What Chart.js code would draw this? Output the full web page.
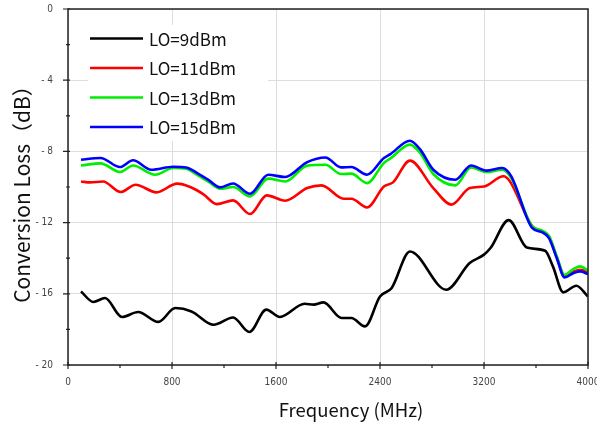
<!DOCTYPE html>
<html>
<head>
<meta charset="utf-8">
<script src="https://cdn.jsdelivr.net/npm/chart.js@4.4.1/dist/chart.umd.min.js"></script>
<style>
  html, body { margin: 0; padding: 0; background: #fff; }
  canvas { display: block; }
</style>
</head>
<body>
<canvas id="c" width="597" height="427"></canvas>
<script>
// Conversion loss vs. frequency for four LO drive levels
const seriesLabels = ['LO=9dBm', 'LO=11dBm', 'LO=13dBm', 'LO=15dBm'];
const seriesColors = ['#000000', '#ff0000', '#00ee00', '#0000ff'];

const freq9 = [100, 195, 285, 415, 540, 695, 825, 950, 1120, 1270, 1395, 1525, 1630, 1820, 1890, 1965, 2105, 2180, 2285, 2400, 2490, 2630, 2910, 3090, 3200, 3250, 3390, 3530, 3670, 3730, 3810, 3910, 4000];
const loss9 = [-15.87, -16.46, -16.24, -17.3, -17.02, -17.58, -16.8, -16.99, -17.74, -17.33, -18.15, -16.89, -17.3, -16.56, -16.61, -16.48, -17.36, -17.36, -17.83, -16.15, -15.67, -13.62, -15.77, -14.27, -13.8, -13.43, -11.86, -13.4, -13.58, -14.46, -15.92, -15.55, -16.15];

const freq11 = [100, 170, 270, 405, 520, 680, 840, 940, 1040, 1145, 1270, 1400, 1530, 1670, 1840, 1950, 2120, 2180, 2300, 2430, 2500, 2630, 2810, 2950, 3090, 3200, 3350, 3400, 3570, 3650, 3700, 3760, 3820, 3890, 3940, 4000];
const loss11 = [-9.69, -9.74, -9.69, -10.28, -9.87, -10.3, -9.81, -10.0, -10.4, -10.96, -10.75, -11.52, -10.47, -10.77, -10.06, -9.91, -10.66, -10.66, -11.15, -9.97, -9.74, -8.52, -10.06, -10.99, -10.06, -9.97, -9.4, -9.69, -12.2, -12.49, -12.8, -13.95, -15.02, -14.75, -14.65, -14.77];

const freq13 = [100, 250, 400, 500, 670, 810, 910, 1000, 1080, 1170, 1270, 1400, 1540, 1670, 1840, 1980, 2100, 2180, 2300, 2430, 2480, 2630, 2710, 2810, 2980, 3100, 3220, 3340, 3410, 3570, 3650, 3700, 3760, 3820, 3890, 3940, 4000];
const loss13 = [-8.79, -8.67, -9.16, -8.79, -9.31, -8.93, -8.97, -9.35, -9.7, -10.1, -10.0, -10.53, -9.53, -9.69, -8.8, -8.75, -9.27, -9.25, -9.78, -8.65, -8.4, -7.62, -8.1, -9.27, -9.91, -8.9, -9.16, -9.03, -9.5, -12.2, -12.46, -12.75, -13.9, -14.93, -14.6, -14.46, -14.69];

const freq15 = [100, 250, 400, 500, 640, 810, 910, 1000, 1080, 1170, 1270, 1400, 1540, 1670, 1840, 1980, 2100, 2180, 2300, 2430, 2480, 2630, 2710, 2810, 2980, 3100, 3220, 3340, 3410, 3570, 3650, 3700, 3760, 3820, 3890, 3940, 4000];
const loss15 = [-8.47, -8.37, -8.88, -8.5, -9.03, -8.86, -8.9, -9.25, -9.6, -10.02, -9.8, -10.38, -9.31, -9.44, -8.6, -8.34, -8.9, -8.88, -9.31, -8.37, -8.15, -7.4, -7.9, -9.03, -9.59, -8.79, -9.08, -8.93, -9.4, -12.3, -12.55, -12.87, -14.0, -15.08, -14.83, -14.74, -14.89];

const xTicks = [0, 800, 1600, 2400, 3200, 4000];
const yTickLabels = { '0': '0', '-4': '- 4', '-8': '- 8', '-12': '- 12', '-16': '- 16', '-20': '- 20' };

const FONT = '"Noto Sans CJK SC", "Noto Sans", sans-serif';
const TICK_FONT = '"Liberation Sans Narrow", "DejaVu Sans Condensed", sans-serif';

function toPoints(xs, ys) { return xs.map((x, i) => ({ x: x, y: ys[i] })); }

const allSeries = [[freq9, loss9], [freq11, loss11], [freq13, loss13], [freq15, loss15]];
const datasets = allSeries.map((s, i) => ({
  label: seriesLabels[i],
  data: toPoints(s[0], s[1]),
  borderColor: seriesColors[i],
  backgroundColor: seriesColors[i],
  borderWidth: 2.6,
  pointRadius: 0,
  cubicInterpolationMode: 'monotone',
  fill: false,
  order: 3 - i
}));

// white legend box with line swatches, inside the top-left of the plot
const legendBox = {
  id: 'legendBox',
  beforeDatasetsDraw(chart) {
    const ctx = chart.ctx;
    ctx.save();
    ctx.fillStyle = '#ffffff';
    ctx.fillRect(88, 25, 180, 116);
    ctx.font = '17px ' + FONT;
    ctx.textBaseline = 'middle';
    ctx.textAlign = 'left';
    seriesLabels.forEach((lab, i) => {
      const y = 38.5 + i * 29.5;
      ctx.strokeStyle = seriesColors[i];
      ctx.lineWidth = 2.6;
      ctx.beginPath();
      ctx.moveTo(90, y);
      ctx.lineTo(143, y);
      ctx.stroke();
      ctx.fillStyle = '#111';
      ctx.fillText(lab, 149, y + 1);
    });
    ctx.restore();
  }
};

// plot frame, tick marks and axis titles
const frame = {
  id: 'frame',
  afterDraw(chart) {
    const ctx = chart.ctx;
    const a = chart.chartArea;
    const xs = chart.scales.x, ys = chart.scales.y;
    ctx.save();
    ctx.strokeStyle = '#222';
    ctx.lineWidth = 1.5;
    ctx.strokeRect(a.left, a.top, a.right - a.left, a.bottom - a.top);
    ctx.lineWidth = 1.2;
    ctx.beginPath();
    for (let v = 0; v <= 4000; v += 400) {
      const px = xs.getPixelForValue(v);
      const major = v % 800 === 0;
      ctx.moveTo(px, a.bottom - (major ? 3 : 0));
      ctx.lineTo(px, a.bottom + (major ? 4 : 3));
    }
    for (let v = 0; v >= -20; v -= 2) {
      const py = ys.getPixelForValue(v);
      const major = v % 4 === 0;
      ctx.moveTo(a.left - (major ? 5 : 2), py);
      ctx.lineTo(a.left + 2, py);
    }
    ctx.stroke();

    ctx.fillStyle = '#111';
    ctx.textAlign = 'center';
    ctx.textBaseline = 'middle';
    ctx.font = '18.5px ' + FONT;
    ctx.fillText('Frequency (MHz)', 351, 410);
    ctx.translate(22, 189);
    ctx.rotate(-Math.PI / 2);
    ctx.font = '21px ' + FONT;
    ctx.fillText('Conversion Loss（dB）', 0, 0);
    ctx.restore();
  }
};

new Chart(document.getElementById('c'), {
  type: 'line',
  data: { datasets: datasets },
  options: {
    responsive: false,
    animation: false,
    devicePixelRatio: 1,
    layout: { padding: { top: 9, right: 9, left: 0, bottom: 0 } },
    plugins: { legend: { display: false }, tooltip: { enabled: false } },
    scales: {
      x: {
        type: 'linear', min: 0, max: 4000,
        afterBuildTicks(s) { s.ticks = xTicks.map(v => ({ value: v })); },
        afterFit(s) { s.height = 62; s.paddingLeft = 0; s.paddingRight = 0; },
        ticks: {
          color: '#444', font: { size: 10, family: TICK_FONT }, padding: 11, maxRotation: 0,
          callback: v => String(v)
        },
        grid: { color: '#dddddd', drawTicks: false },
        border: { display: false }
      },
      y: {
        type: 'linear', min: -20, max: 0,
        ticks: {
          stepSize: 4, color: '#444', font: { size: 10, family: TICK_FONT }, padding: 15,
          callback: v => yTickLabels[String(v)] ?? ''
        },
        afterFit(s) { s.width = 68; s.paddingTop = 0; s.paddingBottom = 0; },
        grid: { color: '#dddddd', drawTicks: false },
        border: { display: false }
      }
    }
  },
  plugins: [legendBox, frame]
});
</script>
</body>
</html>
